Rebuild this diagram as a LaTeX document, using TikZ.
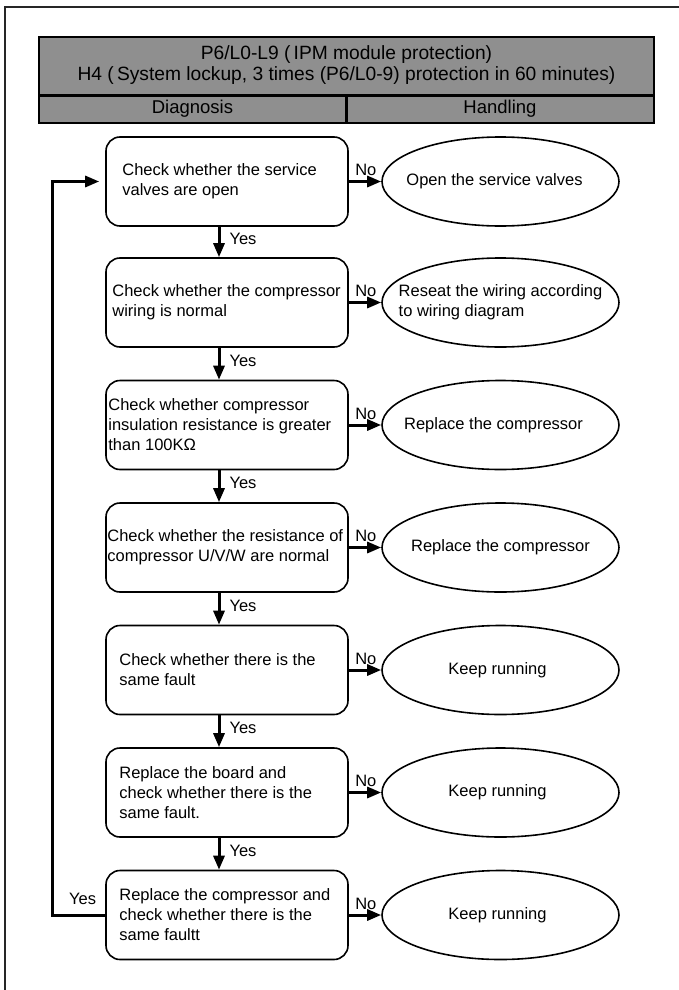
\documentclass[tikz,border=0pt]{standalone}
\usepackage{fontspec}
\setmainfont{Liberation Sans}
\usetikzlibrary{arrows.meta,shapes.geometric}
\definecolor{hdrgray}{RGB}{143,143,143}
\begin{document}
\begin{tikzpicture}[x=1pt,y=-1pt,
  box/.style={draw,line width=1.6pt,rounded corners=14pt,minimum width=242pt,minimum height=89pt,inner sep=0pt},
  btext/.style={inner sep=0pt,anchor=west,align=left,font=\fontsize{16.5}{20}\selectfont},
  oval/.style={draw,ellipse,line width=1.6pt,minimum width=237pt,minimum height=89pt,inner sep=0pt},
  otext/.style={inner sep=0pt,align=left,font=\fontsize{16.5}{20}\selectfont},
  arr/.style={line width=3pt,-{Triangle[length=14pt,width=11pt]}},
  lbl/.style={font=\fontsize{16.5}{20}\selectfont,inner sep=0pt},
  hdr/.style={font=\fontsize{18.5}{21}\selectfont,inner sep=0pt,align=center},
  ttl/.style={font=\fontsize{19.2}{20.5}\selectfont,inner sep=0pt,align=center}
]
\useasboundingbox (0,0) rectangle (678,990);
\draw[line width=1.2pt,black!85] (5,995) -- (5,7) -- (683,7);
% header
\fill[hdrgray] (39,37) rectangle (654,123);
\draw[line width=1.8pt] (39,37) rectangle (654,123);
\draw[line width=3pt] (39,95) -- (654,95);
\draw[line width=3pt] (346,95) -- (346,123);
\node[ttl] (title) at (346.5,65) {P6/L0-L9 (\,IPM module protection)\\H4 (\,System lockup, 3 times (P6/L0-9) protection in 60 minutes)};
\node[hdr] (diag) at (192.5,109) {Diagnosis};
\node[hdr] (hand) at (500,109) {Handling};
% boxes
\node[box] (b1) at (227,181.5) {};
\node[box] (b2) at (227,302.5) {};
\node[box] (b3) at (227,425) {};
\node[box] (b4) at (227,547.5) {};
\node[box] (b5) at (227,670) {};
\node[box] (b6) at (227,792.5) {};
\node[box] (b7) at (227,915) {};
\node[btext] (s1) at ([xshift=17pt]b1.west) {Check whether the service\\valves are open};
\node[btext] (s2) at ([xshift=7pt]b2.west) {Check whether the compressor\\wiring is normal};
\node[btext] (s3) at ([xshift=3pt]b3.west) {Check whether compressor\\insulation resistance is greater\\than 100KΩ};
\node[btext] (s4) at ([xshift=2pt]b4.west) {Check whether the resistance of\\compressor U/V/W are normal};
\node[btext] (s5) at ([xshift=14pt]b5.west) {Check whether there is the\\same fault};
\node[btext] (s6) at ([xshift=14pt]b6.west) {Replace the board and\\check whether there is the\\same fault.};
\node[btext] (s7) at ([xshift=14pt]b7.west) {Replace the compressor and\\check whether there is the\\same faultt};
% ovals
\node[oval] (e1) at (500.5,181.5) {};
\node[oval] (e2) at (500.5,302.5) {};
\node[oval] (e3) at (500.5,425) {};
\node[oval] (e4) at (500.5,547.5) {};
\node[oval] (e5) at (500.5,670) {};
\node[oval] (e6) at (500.5,792.5) {};
\node[oval] (e7) at (500.5,915) {};
\node[otext] (t1) at ([xshift=-6pt]e1.center) {Open the service valves};
\node[otext] (t2) at (e2.center) {Reseat the wiring according\\to wiring diagram};
\node[otext] (t3) at ([xshift=-7pt]e3.center) {Replace the compressor};
\node[otext] (t4) at (e4.center) {Replace the compressor};
\node[otext] (t5) at ([xshift=-3pt]e5.center) {Keep running};
\node[otext] (t6) at ([xshift=-3pt]e6.center) {Keep running};
\node[otext] (t7) at ([xshift=-3pt]e7.center) {Keep running};
% vertical arrows
\coordinate (ax) at (219,0);
\foreach \a/\b in {b1/b2,b2/b3,b3/b4,b4/b5,b5/b6,b6/b7}{
  \draw[arr] (\a.south -| ax) -- (\b.north -| ax) node[lbl,pos=0.4,anchor=west,xshift=9pt] {Yes};
}
% horizontal arrows
\foreach \i in {1,...,7}{
  \draw[arr] (b\i.east) -- (e\i.west) node[lbl,pos=0,anchor=south west,xshift=5pt,yshift=4pt] {No};
}
% loop
\coordinate (lx) at (52,0);
\coordinate (l1) at ([xshift=-6pt]b1.west);
\draw[arr] (b7.west) -- (b7.west -| lx) -- (l1 -| lx) -- (l1);
\node[lbl,anchor=south east] (ly) at ([xshift=-9pt,yshift=10pt]b7.west) {Yes};
\end{tikzpicture}
\end{document}
